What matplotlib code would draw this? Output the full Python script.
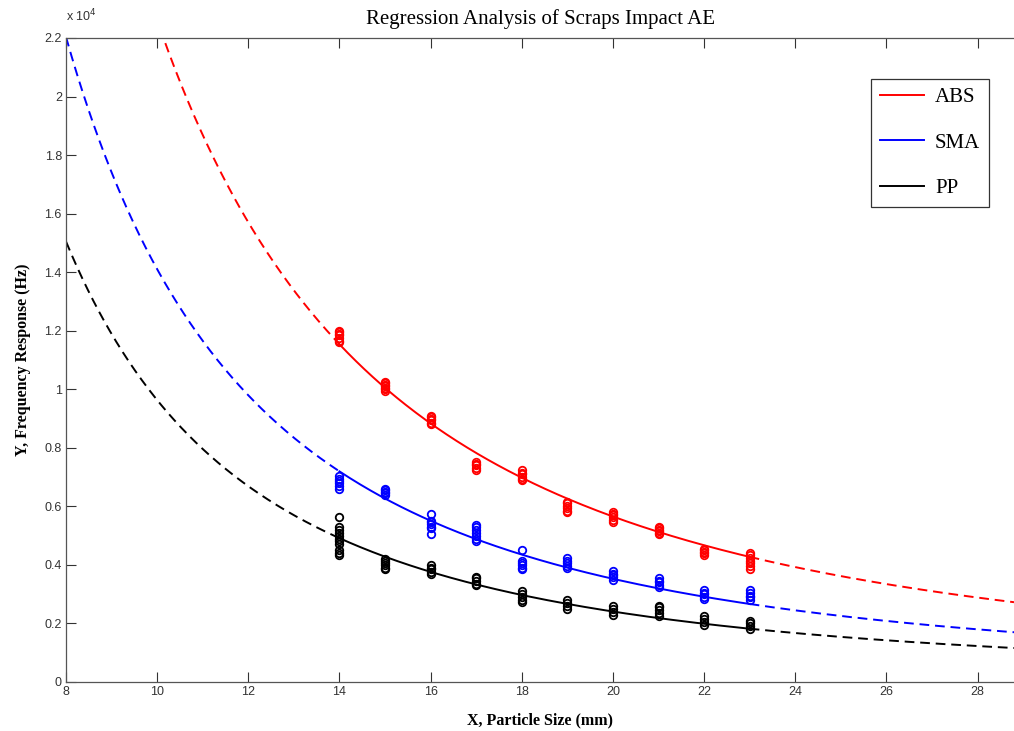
import numpy as np
import matplotlib.pyplot as plt
from matplotlib.lines import Line2D

# particle sizes (mm) where impacts were measured
sizes = [14, 15, 16, 17, 18, 19, 20, 21, 22, 23]

# measured frequency responses (Hz), one list per particle size
abs_hz = [
    [11600, 11650, 11750, 11850, 11900, 11950, 12000],
    [9950, 10000, 10050, 10100, 10150, 10200, 10250],
    [8800, 8850, 8950, 9000, 9050, 9100],
    [7250, 7300, 7400, 7450, 7500],
    [6900, 6950, 7000, 7100, 7150, 7250],
    [5800, 5850, 5950, 6000, 6100, 6150],
    [5450, 5550, 5650, 5700, 5750, 5800],
    [5050, 5100, 5150, 5200, 5250, 5300],
    [4350, 4400, 4450, 4500, 4550],
    [3850, 3950, 4050, 4150, 4250, 4350, 4400],
]
sma_hz = [
    [6600, 6700, 6800, 6850, 6950, 7050],
    [6400, 6450, 6500, 6550, 6600],
    [5050, 5250, 5300, 5400, 5450, 5500, 5750],
    [4800, 4900, 5000, 5100, 5200, 5300, 5350],
    [3850, 3900, 4000, 4050, 4150, 4500],
    [3900, 3950, 4050, 4150, 4250],
    [3500, 3600, 3650, 3700, 3800],
    [3250, 3300, 3400, 3450, 3550],
    [2850, 2900, 3000, 3050, 3150],
    [2800, 2900, 2950, 3050, 3150],
]
pp_hz = [
    [4350, 4400, 4500, 4700, 4800, 4900, 5000, 5100, 5200, 5300, 5650],
    [3850, 3900, 4000, 4050, 4150, 4200],
    [3700, 3750, 3850, 3900, 4000],
    [3300, 3350, 3450, 3550, 3600],
    [2750, 2800, 2900, 3000, 3100],
    [2500, 2600, 2700, 2800],
    [2300, 2400, 2500, 2600],
    [2250, 2350, 2450, 2550, 2600],
    [1950, 2050, 2150, 2250],
    [1800, 1900, 2000, 2100],
]

materials = ['ABS', 'SMA', 'PP']
colors = ['#ff0000', '#0000ff', '#000000']
yticks = [0, 2000, 4000, 6000, 8000, 10000, 12000, 14000, 16000, 18000, 20000, 22000]
ytick_labels = ['0', '0.2', '0.4', '0.6', '0.8', '1', '1.2', '1.4', '1.6', '1.8', '2', '2.2']
xticks = [8, 10, 12, 14, 16, 18, 20, 22, 24, 26, 28]

X_MIN, X_MAX = 8, 28.8

fig = plt.figure(figsize=(10.14, 7.31), dpi=100)
ax = fig.add_axes([66 / 1014, 49 / 731, 1 - 66 / 1014, 644 / 731])

for name, col, data in zip(materials, colors, [abs_hz, sma_hz, pp_hz]):
    xs = np.concatenate([[s] * len(v) for s, v in zip(sizes, data)]).astype(float)
    ys = np.concatenate(data).astype(float)
    ax.plot(xs, ys, 'o', mfc='none', mec=col, ms=5.4, mew=1.3, zorder=3)

    # inverse square regression y = a / x^2 (least squares on a)
    basis = xs ** -2
    a = np.sum(ys * basis) / np.sum(basis ** 2)
    xf = np.linspace(sizes[0], sizes[-1], 200)
    ax.plot(xf, a / xf ** 2, '-', color=col, lw=1.4, zorder=2)
    for lo, hi in [(X_MIN, sizes[0]), (sizes[-1], X_MAX)]:
        xd = np.linspace(lo, hi, 300)
        ax.plot(xd, a / xd ** 2, '--', color=col, lw=1.4,
                dashes=(5, 3), zorder=2)

ax.set_xlim(X_MIN, X_MAX)
ax.set_ylim(0, 22000)
ax.set_xticks(xticks)
ax.set_xticklabels([str(t) for t in xticks], family='Liberation Sans', fontsize=9)
ax.set_yticks(yticks)
ax.set_yticklabels(ytick_labels, family='Liberation Sans', fontsize=9)
ax.tick_params(direction='in', length=7, width=0.8, top=True, right=False,
               colors='#333333', pad=3)
ax.spines['right'].set_visible(False)
for sp in ax.spines.values():
    sp.set_color('#555555')
    sp.set_linewidth(0.9)

fig.text(66 / 1014, 1 - 16 / 731, r'x 10$^4$', family='Liberation Sans',
         fontsize=9, color='#333333', ha='left', va='center')

ax.set_title('Regression Analysis of Scraps Impact AE', family='Liberation Serif',
             fontsize=15, pad=10)
ax.set_xlabel('X, Particle Size (mm)', family='Liberation Serif', fontsize=11.5,
              fontweight='bold', labelpad=10)
ax.set_ylabel('Y, Frequency Response (Hz)', family='Liberation Serif', fontsize=11.5,
              fontweight='bold', labelpad=10)

handles = [Line2D([0], [0], color=c, lw=1.4) for c in colors]
leg = ax.legend(handles, materials, loc='upper right',
                bbox_to_anchor=(989 / 1014, 1 - 79 / 731),
                bbox_transform=fig.transFigure,
                prop={'family': 'Liberation Serif', 'size': 15},
                frameon=True, fancybox=False, shadow=False, framealpha=1,
                edgecolor='#333333', handlelength=2.1, handletextpad=0.55,
                labelspacing=1.24, borderpad=0.42, borderaxespad=0)
leg.get_frame().set_linewidth(0.9)

fig.savefig('out.png', dpi=100)
